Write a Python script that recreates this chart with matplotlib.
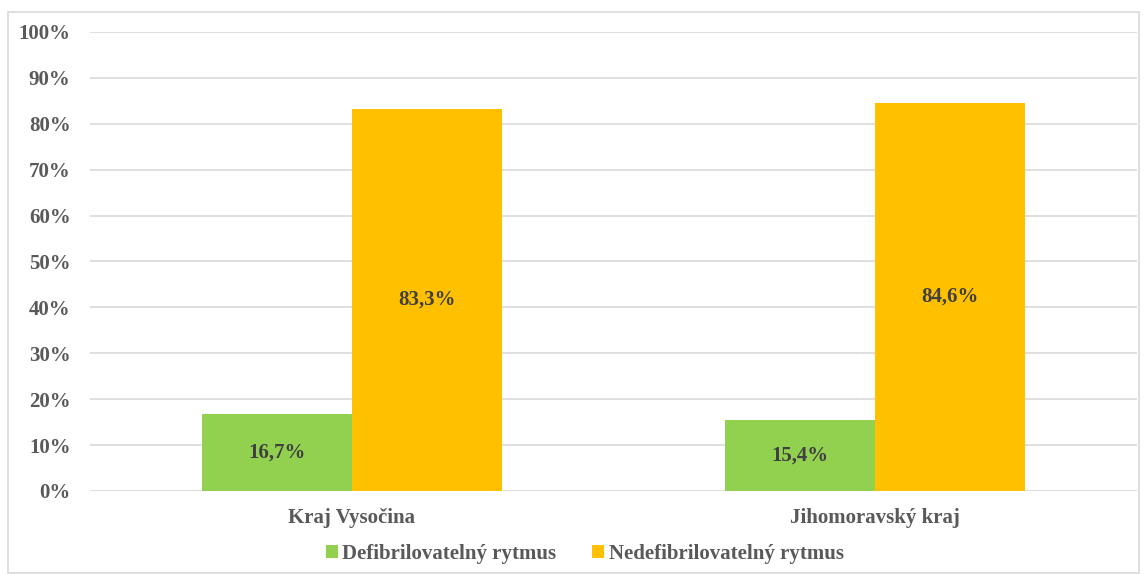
import matplotlib
matplotlib.use("Agg")
import matplotlib.pyplot as plt
import numpy as np
from matplotlib.patches import Rectangle
from matplotlib.ticker import FuncFormatter

categories = ["Kraj Vysočina", "Jihomoravský kraj"]
series_names = ["Defibrilovatelný rytmus", "Nedefibrilovatelný rytmus"]
defib = [16.7, 15.4]
nedefib = [83.3, 84.6]

COLORS = ["#92D050", "#FFC000"]
TICK_COLOR = "#595959"
LABEL_COLOR = "#404040"
FS = 15

plt.rcParams["font.family"] = ["Liberation Serif", "DejaVu Serif"]
plt.rcParams["font.weight"] = "bold"

fig = plt.figure(figsize=(11.44, 5.74), dpi=100)
ax = fig.add_axes([0.0787, 0.1446, 0.9152, 0.7997])

# light frame around the whole chart area
fig.patches.append(Rectangle((8 / 1144, 0.002), 1131 / 1144, 1 - 12 / 574 - 0.002,
                             transform=fig.transFigure, fill=False,
                             edgecolor="#D9D9D9", linewidth=1.2))

x = np.arange(len(categories))
w = 0.2865
b1 = ax.bar(x - w / 2, defib, w, color=COLORS[0], label=series_names[0], zorder=3)
b2 = ax.bar(x + w / 2, nedefib, w, color=COLORS[1], label=series_names[1], zorder=3)

for bars in (b1, b2):
    for rect in bars:
        h = rect.get_height()
        ax.text(rect.get_x() + rect.get_width() / 2, h / 2,
                f"{h:.1f}%".replace(".", ","), ha="center", va="center",
                fontsize=FS, fontweight="bold", color=LABEL_COLOR, zorder=4)

ax.set_xlim(-0.5, 1.5)
ax.set_ylim(0, 100)
ax.set_yticks(np.arange(0, 101, 10))
ax.yaxis.set_major_formatter(FuncFormatter(lambda v, p: f"{v:.0f}%"))
ax.set_xticks(x)
ax.set_xticklabels(categories)
ax.tick_params(axis="y", length=0, pad=14, labelsize=FS, labelcolor=TICK_COLOR)
ax.tick_params(axis="x", length=0, pad=12, labelsize=FS, labelcolor=TICK_COLOR)
for lab in ax.get_xticklabels() + ax.get_yticklabels():
    lab.set_fontweight("bold")

ax.grid(axis="y", color="#D9D9D9", linewidth=1.2, zorder=0)
for s in ax.spines.values():
    s.set_visible(False)

leg = fig.legend(loc="center", bbox_to_anchor=(0.511, 1 - 554 / 574), ncol=2,
                 frameon=False, fontsize=FS, handlelength=0.6, handleheight=0.6,
                 handletextpad=0.2, columnspacing=1.7)
for t in leg.get_texts():
    t.set_color(TICK_COLOR)
    t.set_fontweight("bold")

fig.savefig("out.png", dpi=100)
